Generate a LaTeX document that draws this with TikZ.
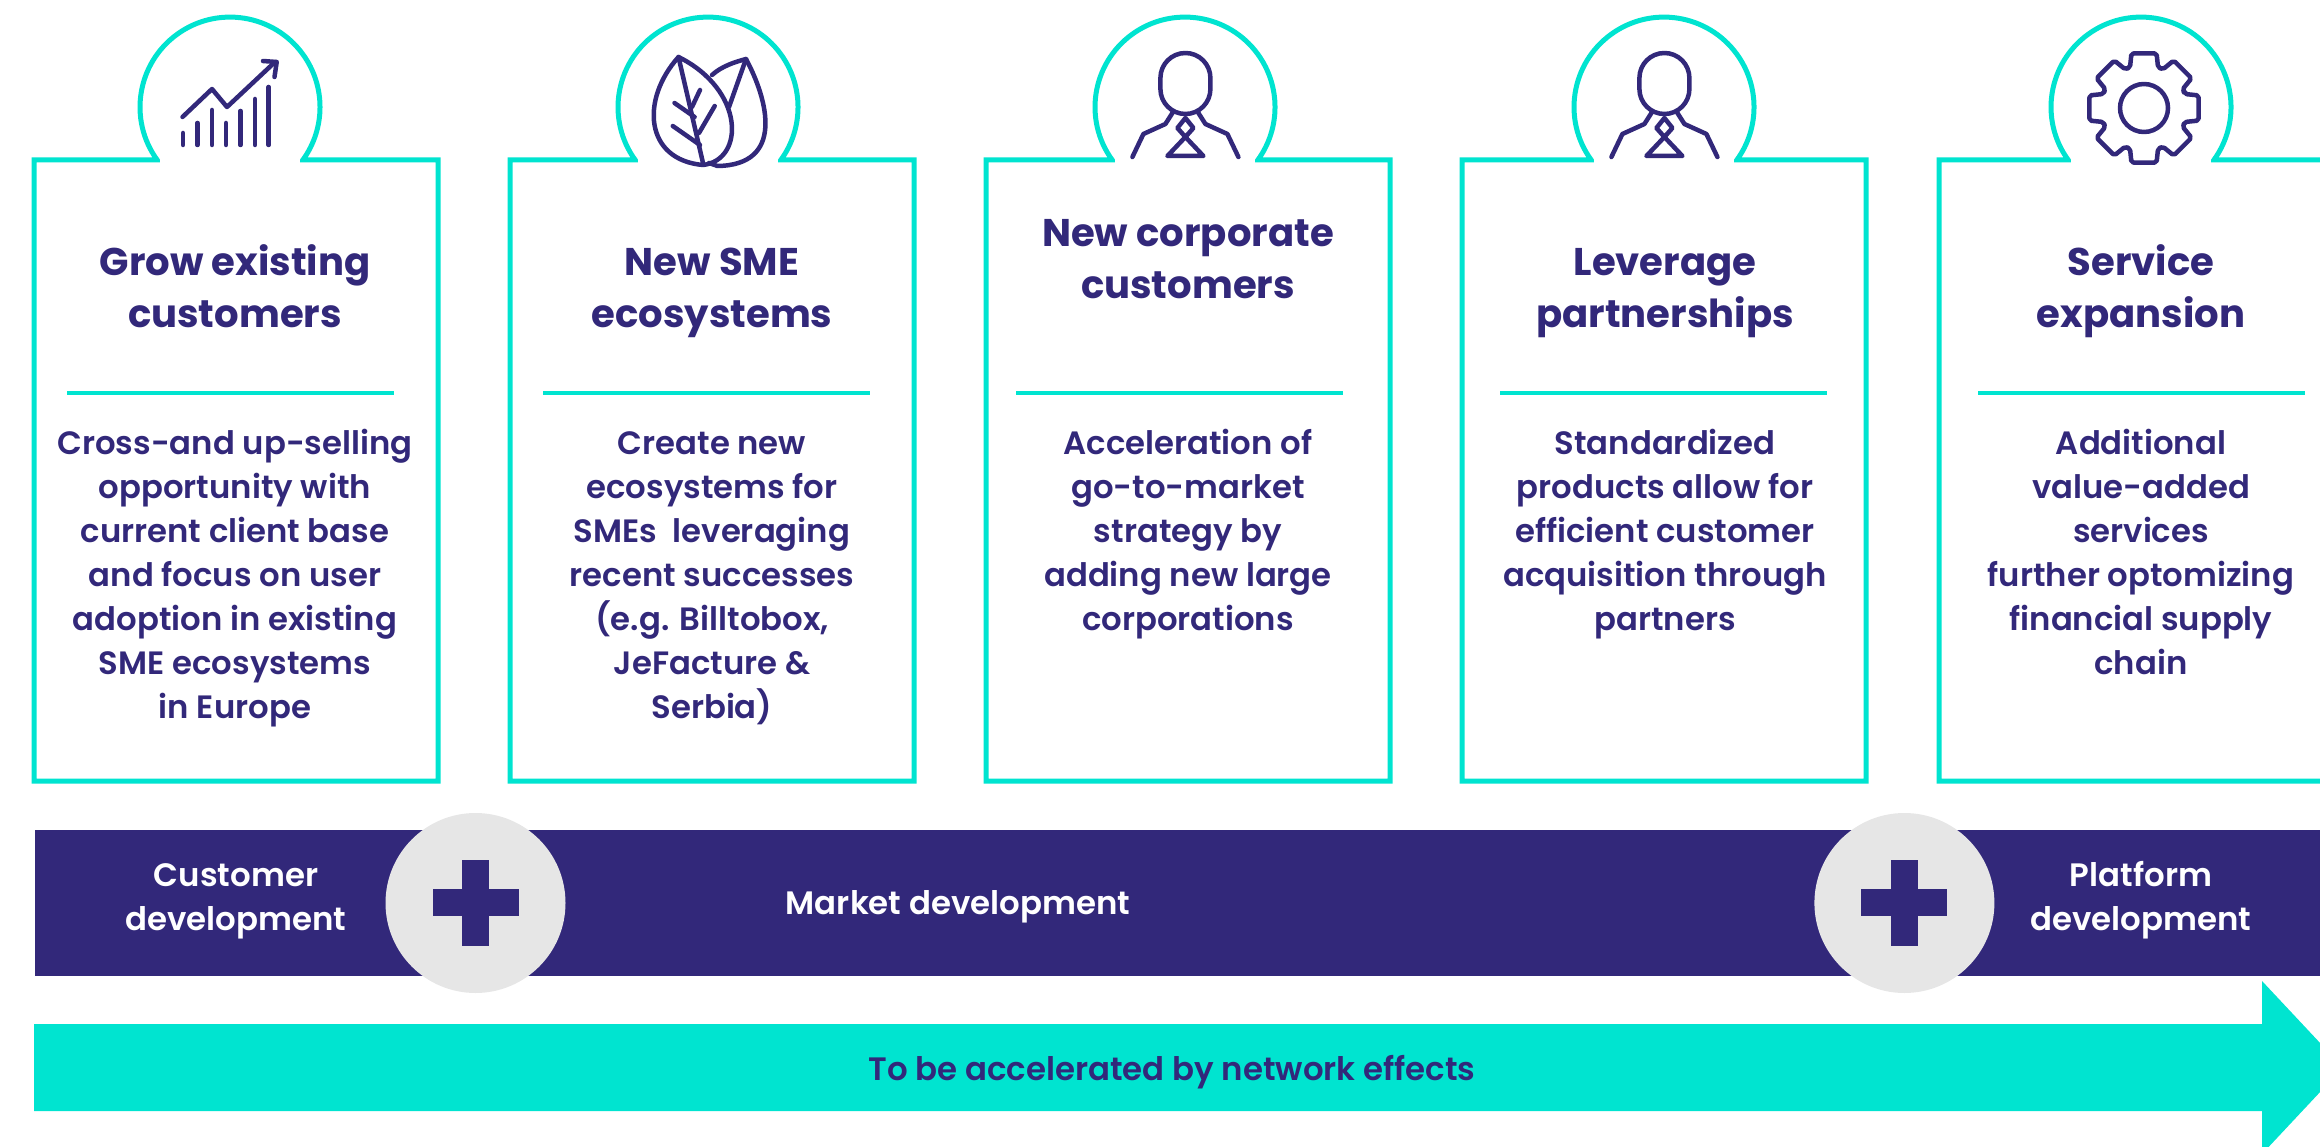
\documentclass[tikz,border=0pt]{standalone}
\usepackage{fontspec}
\setmainfont{Poppins}
\newfontfamily\headfont{Poppins}[UprightFont=*-Bold]
\newfontfamily\bodyfont{Poppins SemiBold}
\definecolor{navy}{HTML}{32287A}
\definecolor{teal}{HTML}{00E4D0}
\definecolor{disc}{HTML}{E6E6E6}
\begin{document}
\begin{tikzpicture}[
       x=1pt, y=-1pt,
       card/.style={draw=teal, line width=5pt, fill=white, miter limit=10},
       rule/.style={draw=teal, line width=3.5pt},
       icon/.style={draw=navy, line width=4.5pt, line cap=round, line join=round},
       title/.style={text=navy, align=center, inner sep=0pt, font=\headfont\fontsize{38.6}{52}\selectfont},
       body/.style={text=navy, align=center, inner sep=0pt, anchor=north, font=\bodyfont\fontsize{32.3}{44}\selectfont},
       band/.style={text=white, align=center, inner sep=0pt, font=\bodyfont\fontsize{32.4}{44}\selectfont},
       plusdisc/.style={circle, fill=disc, minimum size=180pt, inner sep=0pt}
   ]

   \clip (0,0) rectangle (2320,1147);

   % cards
   \foreach \bx/\cx/\rx in {34/230/67,510/708/543,986/1185/1016,1462/1664/1500,1939/2141/1978} {
       \draw[card] (\cx-72.8,160) arc[start angle=144, end angle=396, radius=90]
           -- (\bx+404,160) -- (\bx+404,781) -- (\bx,781) -- (\bx,160) -- cycle;
       \fill[white] (\cx-70,150) rectangle (\cx+70,170);
       \draw[rule] (\rx,393) -- (\rx+327,393);
   }

   % chart
   \foreach \x/\y in {183/133,197.5/123,212/110,226/123,240.5/111,255/99,268.7/87} {
       \draw[icon] (\x,\y) -- (\x,145);
   }
   \draw[icon] (182.5,117) -- (212,89) -- (227,107) -- (275,62);
   \draw[icon] (263,61) -- (276.7,62) -- (274.5,77);

   % leaves
   \draw[icon] (678.5,57) .. controls (640,100) and (645,160) .. (703,165)
       .. controls (745,160) and (745,90) .. (678.5,57);
   \draw[icon] (712,75) .. controls (722,66) and (735,62) .. (746,59)
       .. controls (768,100) and (785,165) .. (717.5,166) -- (709,163);
   \draw[icon] (678.5,57) -- (703,163);
   \draw[icon] (746,59) -- (729,107);
   \draw[icon] (700,90) -- (692,107);
   \draw[icon] (674.5,103) -- (694.6,117);
   \draw[icon] (714.7,106) -- (699,133);
   \draw[icon] (672.8,126) -- (700,145);

   % persons
   \foreach \px in {1185.4,1664.4} {
       \begin{scope}[shift={(\px,0)}]
           \draw[icon] (-25,78) arc[start angle=180, end angle=360, radius=25]
               -- (25,89) arc[start angle=0, end angle=180, radius=25] -- cycle;
           \draw[icon] (-13,113) -- (-20,124) -- (-42,134) -- (-53,157);
           \draw[icon] (13,113) -- (20,124) -- (42,134) -- (53,157);
           \draw[icon] (0,118) -- (8,128) -- (0,137) -- (-8,128) -- cycle;
           \draw[icon] (0,137) -- (18,156) -- (-18,156) -- cycle;
       \end{scope}
   }

   % gear
   \begin{scope}[shift={(2144,108)}]
       \draw[icon, rounded corners=2pt] (-19:43)
           \foreach \a in {0,45,...,315} {
               -- (\a-19:43) -- (\a-13:56) -- (\a+13:56) -- (\a+19:43)
           } -- cycle;
       \draw[icon] (0,0) circle (24);
   \end{scope}

   % titles
   \node[title] (grow) at (235,291) {\strut Grow existing\\customers\strut};
   \node[title] (sme) at (712,291) {\strut New SME\\ecosystems\strut};
   \node[title] (corporate) at (1188,262) {\strut New corporate\\customers\strut};
   \node[title] (leverage) at (1665,291) {\strut Leverage\\partnerships\strut};
   \node[title] (service) at (2141,291) {\strut Service\\expansion\strut};

   % texts
   \node[body] (growtext) at (235,423) {\strut Cross-and up-selling\\opportunity with\\current client base\\and focus on user\\adoption in existing\\SME ecosystems\\in Europe};
   \node[body] (smetext) at (712,423) {\strut Create new\\ecosystems for\\SMEs\ \ leveraging\\recent successes\\(e.g. Billtobox,\\JeFacture \&\\Serbia)};
   \node[body] (corporatetext) at (1188,423) {\strut Acceleration of\\go-to-market\\strategy by\\adding new large\\corporations};
   \node[body] (leveragetext) at (1665,423) {\strut Standardized\\products allow for\\efficient customer\\acquisition through\\partners};
   \node[body] (servicetext) at (2141,423) {\strut Additional\\value-added\\services\\further optomizing\\financial supply\\chain};

   % bar
   \fill[navy] (35,830) rectangle (2330,976);
   \foreach \cx/\name in {475.5/discleft,1904.4/discright} {
       \node[plusdisc] (\name) at (\cx,903) {};
       \fill[navy] (\cx-43,889) rectangle (\cx+43,916);
       \fill[navy] (\cx-13.5,860) rectangle (\cx+13.5,946);
   }
   \node[band] (customer) at (236,900) {\strut Customer\\development\strut};
   \node[band] (market) at (958,906) {\strut Market development\strut};
   \node[band] (platform) at (2141,900) {\strut Platform\\development\strut};

   % arrow
   \fill[teal] (34,1024) -- (2262,1024) -- (2262,981) -- (2343,1067.5)
       -- (2262,1154) -- (2262,1111) -- (34,1111) -- cycle;
   \node[band, text=navy] (network) at (1172,1072) {\strut To be accelerated by network effects\strut};
   \end{tikzpicture}
\end{document}
